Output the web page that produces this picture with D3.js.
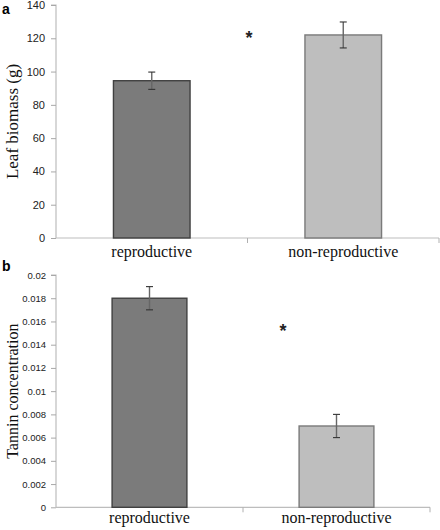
<!DOCTYPE html>
<html><head><meta charset="utf-8">
<script src="https://cdn.jsdelivr.net/npm/d3@7"></script>
<style>body{margin:0;background:#fff}svg{display:block}</style>
</head><body><svg id="c" width="440" height="530"></svg>
<script>
const categories = ["reproductive", "non-reproductive"];
const biomassValues = [94.5, 122];
const biomassErrors = [5.2, 7.8];
const biomassTicks = [0, 20, 40, 60, 80, 100, 120, 140];
const tanninValues = [0.018, 0.007];
const tanninErrors = [0.001, 0.001];
const tanninTicks = [0, 0.002, 0.004, 0.006, 0.008, 0.01, 0.012, 0.014, 0.016, 0.018, 0.02];

const svg = d3.select("#c");
const fills = ["#7b7b7b", "#bebebe"];
const strokes = ["#404040", "#7a7a7a"];

function panel(o) {
  const g = svg.append("g");
  const x = d3.scaleBand().domain(categories).range([o.x0, o.x1]).paddingInner(0).paddingOuter(0);
  const y = d3.scaleLinear().domain([0, o.max]).range([o.yb, o.yt]);
  // y axis
  const ya = g.append("g").attr("transform", `translate(${o.x0},0)`)
    .call(d3.axisLeft(y).tickValues(o.ticks).tickSize(5).tickPadding(o.tickPad).tickFormat(d => String(+d.toFixed(4))));
  ya.select(".domain").attr("stroke", "#bdbdbd").attr("stroke-width", 1.2).attr("d", `M-5,${o.yt}H0V${o.yb}`);
  ya.selectAll(".tick line").attr("stroke", "#a8a8a8");
  ya.selectAll(".tick text").attr("font-family", "Liberation Sans, Arial, sans-serif").attr("font-size", o.tickSize).attr("fill", "#222");
  // x axis
  const xa = g.append("g").attr("transform", `translate(0,${o.yb})`)
    .call(d3.axisBottom(x).tickSize(0).tickPadding(o.labelPad));
  xa.select(".domain").attr("stroke", "#bdbdbd").attr("stroke-width", 1.2).attr("d", `M${o.x0},0H${o.x1}`);
  xa.selectAll(".tick text").attr("font-family", "Liberation Serif, Times New Roman, serif").attr("font-size", 16).attr("fill", "#111");
  // separator ticks between categories
  const bounds = [o.x0 + x.bandwidth(), o.x1];
  g.selectAll("line.sep").data(bounds).join("line")
    .attr("x1", d => d).attr("x2", d => d).attr("y1", o.yb).attr("y2", o.yb + 5)
    .attr("stroke", "#b0b0b0");
  // bars
  const bw = x.bandwidth() * 0.4;
  g.selectAll("rect.bar").data(o.values).join("rect")
    .attr("x", (d, i) => x(categories[i]) + (x.bandwidth() - bw) / 2)
    .attr("y", d => y(d))
    .attr("width", bw)
    .attr("height", d => y(0) - y(d))
    .attr("fill", (d, i) => fills[i])
    .attr("stroke", (d, i) => strokes[i])
    .attr("stroke-width", 1.4);
  // error bars
  o.values.forEach((v, i) => {
    const cx = x(categories[i]) + x.bandwidth() / 2;
    const e = o.errors[i];
    g.append("line").attr("x1", cx).attr("x2", cx).attr("y1", y(v + e)).attr("y2", y(v - e))
      .attr("stroke", "#666").attr("stroke-width", 1.4);
    [v + e, v - e].forEach(w => g.append("line").attr("x1", cx - 3.5).attr("x2", cx + 3.5)
      .attr("y1", y(w)).attr("y2", y(w)).attr("stroke", "#333").attr("stroke-width", 1.1));
  });
  // y title
  g.append("text").attr("transform", `translate(${o.titleX},${(o.yt + o.yb) / 2}) rotate(-90)`)
    .attr("text-anchor", "middle")
    .attr("font-family", "Liberation Serif, Times New Roman, serif").attr("font-size", o.titleSize)
    .attr("fill", "#111").text(o.title);
  // asterisk
  g.append("text").attr("x", o.starX).attr("y", o.starY).attr("text-anchor", "middle")
    .attr("font-family", "Liberation Sans, Arial, sans-serif").attr("font-size", 18).attr("font-weight", "bold")
    .attr("fill", "#222").text("*");
  // panel letter
  g.append("text").attr("x", 2).attr("y", o.letterY)
    .attr("font-family", "Liberation Sans, Arial, sans-serif").attr("font-size", 14).attr("font-weight", "bold")
    .attr("fill", "#000").text(o.letter);
}

panel({x0: 56, x1: 439, yt: 5, yb: 238, max: 140, ticks: biomassTicks, values: biomassValues, errors: biomassErrors,
  tickSize: 11, tickPad: 6, labelPad: 8,
  title: "Leaf biomass (g)", titleSize: 17, titleX: 18, starX: 249, starY: 44, letter: "a", letterY: 14});
panel({x0: 56, x1: 430, yt: 275, yb: 507.3, max: 0.02, ticks: tanninTicks, values: tanninValues, errors: tanninErrors,
  tickSize: 9.5, tickPad: 5, labelPad: 4,
  title: "Tannin concentration", titleSize: 16, titleX: 18, starX: 283, starY: 337, letter: "b", letterY: 271});
</script></body></html>
